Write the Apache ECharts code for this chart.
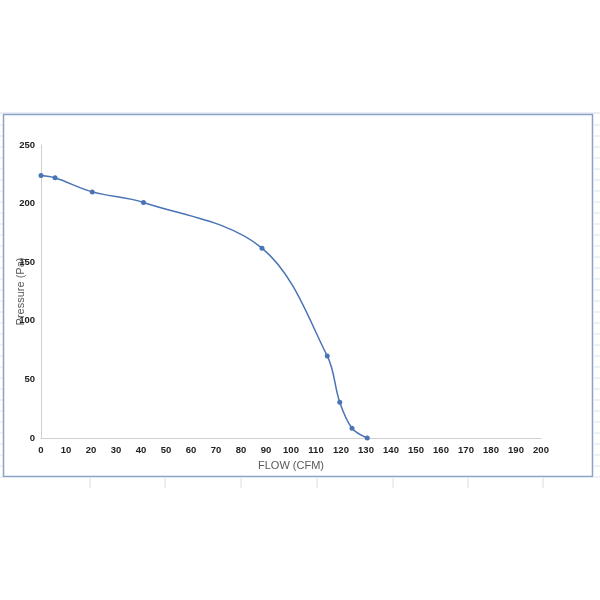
<!DOCTYPE html>
<html>
<head>
<meta charset="utf-8">
<script src="https://cdn.jsdelivr.net/npm/echarts@6/dist/echarts.min.js"></script>
<style>
  html, body { margin: 0; padding: 0; background: #fff; }
  #chart { width: 600px; height: 600px; }
</style>
</head>
<body>
<div id="chart"></div>
<script>
// fan curve
var flow = [0, 5.6, 20.5, 41, 88.4, 114.5, 119.5, 124.4, 130.5];
var pressure = [224, 222, 210, 201, 162, 70, 30.5, 8.3, 0];
var xTicks = [0, 10, 20, 30, 40, 50, 60, 70, 80, 90, 100, 110, 120, 130, 140, 150, 160, 170, 180, 190, 200];
var yTicks = [0, 50, 100, 150, 200, 250];

var myChart = echarts.init(document.getElementById('chart'));

var points = flow.map(function (f, i) { return [f, pressure[i]]; });

// faint sheet grid around the chart box
var sheet = [];
sheet.push({ type: 'line', shape: { x1: 0, y1: 113, x2: 600, y2: 113 }, style: { stroke: '#d6dde8', lineWidth: 1 } });
[90, 165, 241, 317, 393, 468, 543].forEach(function (x) {
  sheet.push({ type: 'line', shape: { x1: x, y1: 478, x2: x, y2: 488 }, style: { stroke: '#dcdcdc', lineWidth: 1 } });
});
for (var r = 125; r < 478; r += 11) {
  sheet.push({ type: 'line', shape: { x1: 0, y1: r, x2: 3, y2: r }, style: { stroke: '#dde3ec', lineWidth: 1 } });
  sheet.push({ type: 'line', shape: { x1: 594, y1: r, x2: 600, y2: r }, style: { stroke: '#dde3ec', lineWidth: 1 } });
}
sheet.push({
  type: 'rect',
  shape: { x: 3.5, y: 114.5, width: 589, height: 362 },
  style: { fill: null, stroke: '#8aa2c8', lineWidth: 1.5 }
});

var option = {
  animation: false,
  backgroundColor: '#fff',
  graphic: sheet,
  grid: { left: 41, right: 59, top: 145, bottom: 162, containLabel: false, outerBoundsMode: 'none' },
  xAxis: {
    type: 'value',
    min: 0,
    max: 200,
    interval: 10,
    name: 'FLOW (CFM)',
    nameLocation: 'middle',
    nameGap: 22,
    nameMoveOverlap: false,
    nameTextStyle: { color: '#595959', fontSize: 11, fontFamily: 'Liberation Sans' },
    axisLine: { show: true, lineStyle: { color: '#d0d0d0', width: 1 } },
    axisTick: { show: false },
    splitLine: { show: false },
    axisLabel: {
      color: '#222',
      fontSize: 9.5,
      fontWeight: 'bold',
      fontFamily: 'Liberation Sans',
      margin: 7,
      hideOverlap: false,
      formatter: function (v) { return xTicks.indexOf(v) >= 0 ? String(v) : ''; }
    }
  },
  yAxis: {
    type: 'value',
    min: 0,
    max: 250,
    interval: 50,
    name: 'Pressure (Pa)',
    nameLocation: 'middle',
    nameGap: 15,
    nameRotate: 90,
    nameMoveOverlap: false,
    nameTextStyle: { color: '#595959', fontSize: 11, fontFamily: 'Liberation Sans' },
    axisLine: { show: true, lineStyle: { color: '#d0d0d0', width: 1 } },
    axisTick: { show: false },
    splitLine: { show: false },
    axisLabel: {
      color: '#222',
      fontSize: 9.5,
      fontWeight: 'bold',
      fontFamily: 'Liberation Sans',
      margin: 6,
      formatter: function (v) { return yTicks.indexOf(v) >= 0 ? String(v) : ''; }
    }
  },
  series: [{
    type: 'line',
    data: points,
    smooth: 0.35,
    symbol: 'circle',
    symbolSize: 5,
    lineStyle: { color: '#4a74b6', width: 1.5 },
    itemStyle: { color: '#4a74b6' }
  }]
};
myChart.setOption(option);
</script>
</body>
</html>
